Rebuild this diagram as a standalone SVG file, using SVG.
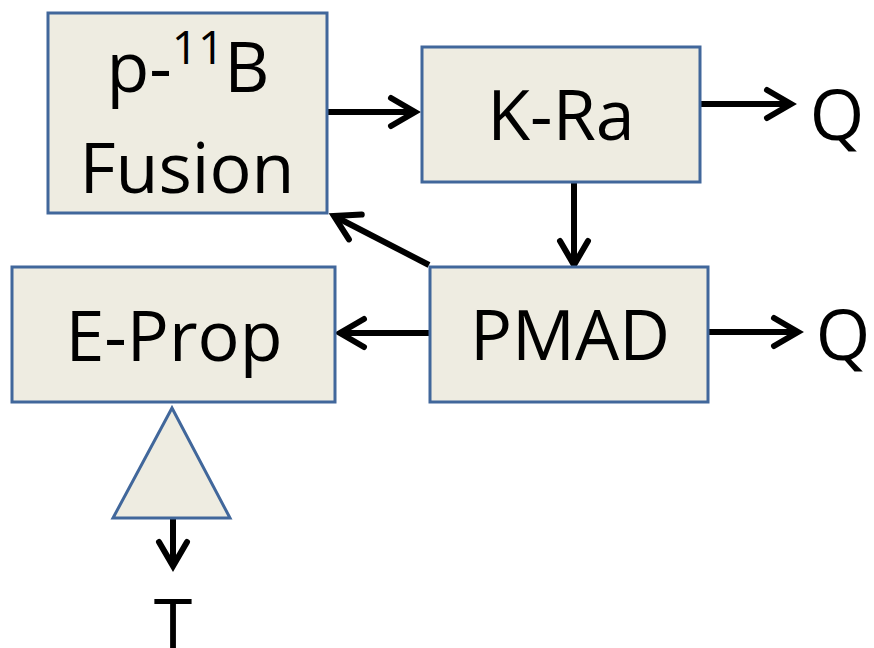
<svg xmlns="http://www.w3.org/2000/svg" width="874" height="648" viewBox="0 0 874 648">
<style>
.box{fill:#EEECE1;stroke:#41679B;stroke-width:3}
.lbl{font-family:"Open Sans","Liberation Sans",sans-serif;font-size:70px;fill:#000;text-anchor:middle}
.conn{stroke:#000;stroke-width:6;fill:none;marker-end:url(#ah)}
</style>
<defs>
<marker id="ah" viewBox="-30 -20 40 40" refX="0" refY="0" markerWidth="40" markerHeight="40" markerUnits="userSpaceOnUse" orient="auto">
<path d="M-24,-14 L0,0 L-24,14" fill="none" stroke="#000" stroke-width="6" stroke-linecap="round" stroke-linejoin="miter"/>
</marker>
</defs>
<rect width="874" height="648" fill="#fff"/>
<g id="connectors">
<line class="conn" x1="327" y1="112" x2="415" y2="112"/>
<line class="conn" x1="700" y1="104" x2="791" y2="104"/>
<line class="conn" x1="574" y1="182" x2="574" y2="265"/>
<line class="conn" x1="429" y1="265" x2="334" y2="216"/>
<line class="conn" x1="430" y1="333" x2="340" y2="333"/>
<line class="conn" x1="708" y1="332" x2="798" y2="332"/>
<line class="conn" x1="173" y1="518" x2="173" y2="566"/>
</g>
<g id="fusion">
<rect class="box" x="48" y="13" width="279" height="200"/>
<text class="lbl" x="188" y="92">p-<tspan font-size="46" dy="-28">11</tspan><tspan dy="28">B</tspan></text>
<text class="lbl" x="187" y="193">Fusion</text>
</g>
<g id="kra">
<rect class="box" x="422" y="47" width="278" height="135"/>
<text class="lbl" x="561" y="140">K-Ra</text>
</g>
<g id="pmad">
<rect class="box" x="430" y="267" width="278" height="135"/>
<text class="lbl" x="570" y="360">PMAD</text>
</g>
<g id="eprop">
<rect class="box" x="12" y="267" width="323" height="135"/>
<text class="lbl" x="174" y="361">E-Prop</text>
</g>
<g id="triangle">
<polygon class="box" points="172,408 230,518 113,518"/>
</g>
<g id="q1"><text class="lbl" x="837" y="140">Q</text></g>
<g id="q2"><text class="lbl" x="843" y="360">Q</text></g>
<g id="t"><text class="lbl" x="173" y="649">T</text></g>
</svg>
